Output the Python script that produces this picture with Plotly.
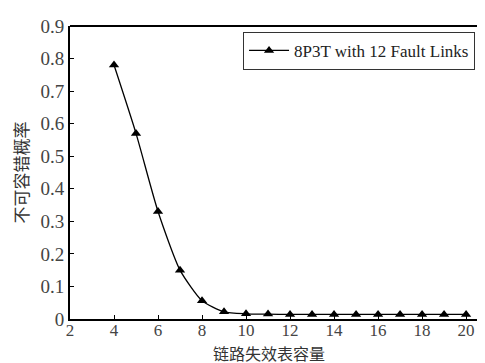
import plotly.graph_objects as go

capacity = [4, 5, 6, 7, 8, 9, 10, 11, 12, 13, 14, 15, 16, 17, 18, 19, 20]
prob = [0.78, 0.57, 0.33, 0.15, 0.056, 0.022, 0.016, 0.015, 0.014, 0.014, 0.014,
        0.014, 0.014, 0.014, 0.014, 0.014, 0.014]
series_name = "8P3T with 12 Fault Links"
x_title = "链路失效表容量"
y_title = "不可容错概率"
x_ticks = [2, 4, 6, 8, 10, 12, 14, 16, 18, 20]
y_ticks = [0, 0.1, 0.2, 0.3, 0.4, 0.5, 0.6, 0.7, 0.8, 0.9]
y_tick_text = ["0", "0.1", "0.2", "0.3", "0.4", "0.5", "0.6", "0.7", "0.8", "0.9"]

serif = "Liberation Serif, Times New Roman, serif"
cjk = "Noto Sans CJK SC"

fig = go.Figure()
fig.add_trace(go.Scatter(
    x=capacity, y=prob, name=series_name, mode="lines+markers",
    line=dict(color="black", width=1.3, shape="spline", smoothing=0.6),
    marker=dict(symbol="triangle-up", size=9, color="black"),
))

fig.update_layout(
    width=485, height=363,
    margin=dict(l=62, r=8, t=11, b=52),
    plot_bgcolor="white", paper_bgcolor="white",
    font=dict(family=serif, size=17, color="#333"),
    showlegend=True,
    legend=dict(
        x=0.976, y=0.98, xanchor="right", yanchor="top",
        bordercolor="#333", borderwidth=1, bgcolor="white",
        font=dict(family=serif, size=17, color="#222"),
        itemwidth=40, tracegroupgap=0,
    ),
    xaxis=dict(
        range=[2, 20.86], tickvals=x_ticks, ticks="inside", ticklen=4,
        tickcolor="black", showline=True, linecolor="black", linewidth=2,
        mirror=False, showgrid=False, zeroline=False, ticklabelstandoff=-5,
        tickfont=dict(family=serif, size=17, color="#444"),
    ),
    yaxis=dict(
        range=[0, 0.9], tickvals=y_ticks, ticktext=y_tick_text, ticks="inside",
        ticklen=4, tickcolor="black", showline=True, linecolor="black", linewidth=2,
        showgrid=False, zeroline=False,
        tickfont=dict(family=serif, size=19, color="#444"),
        title=dict(text=y_title, font=dict(family=cjk, size=17, color="#333"),
                   standoff=8),
    ),
)
fig.add_annotation(text=x_title, xref="paper", yref="paper", x=0.48, y=-0.116,
                   xanchor="center", yanchor="middle", showarrow=False,
                   font=dict(family=cjk, size=16, color="#333"))
fig.add_shape(type="line", xref="paper", yref="paper", x0=0, x1=1.02, y0=1, y1=1,
              line=dict(color="black", width=2))

fig.write_html("out.html")
